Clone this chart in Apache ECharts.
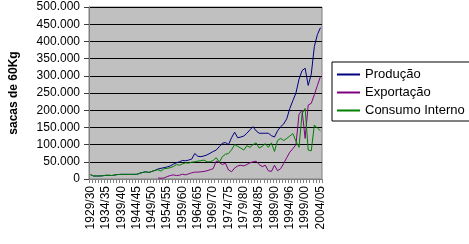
<!DOCTYPE html>
<html>
<head>
<meta charset="utf-8">
<script src="https://cdn.jsdelivr.net/npm/echarts@6/dist/echarts.min.js"></script>
<style>
html,body{margin:0;padding:0;background:#fff;}
#chart{width:469px;height:244px;}
</style>
</head>
<body>
<div id="chart"></div>
<script>
const categories = ["1929/30","1930/31","1931/32","1932/33","1933/34","1934/35","1935/36","1936/37","1937/38","1938/39",
"1939/40","1940/41","1941/42","1942/43","1943/44","1944/45","1945/46","1946/47","1947/48","1948/49",
"1949/50","1950/51","1951/52","1952/53","1953/54","1954/55","1955/56","1956/57","1957/58","1958/59",
"1959/60","1960/61","1961/62","1962/63","1963/64","1964/65","1965/66","1966/67","1967/68","1968/69",
"1969/70","1970/71","1971/72","1972/73","1973/74","1974/75","1975/76","1976/77","1977/78","1978/79",
"1979/80","1980/81","1981/82","1982/83","1983/84","1984/85","1985/86","1986/87","1987/88","1988/89",
"1989/90","1990/91","1991/92","1992/93","1993/94","1994/96","1995/96","1996/97","1997/98","1998/99",
"1999/00","2000/01","2001/02","2002/03","2003/04","2004/05"];

const producao = [12500,8700,8700,8700,9500,10700,10700,10000,12000,13000,
13500,13500,13500,13500,13500,13500,16500,19000,21000,19000,
22000,25000,29000,31000,33000,35000,38000,43000,47000,50000,
54000,53000,55000,58000,74000,66000,65000,67000,70000,75000,
80000,84000,94000,104000,106000,100000,120000,136000,120000,122000,
125000,133000,143000,152000,140000,133000,133000,133000,133000,126000,
122000,140000,152000,160000,175000,205000,228000,250000,290000,315000,
322000,272000,305000,385000,420000,440000];

const exportacao = [null,null,null,null,null,null,null,null,null,null,
null,null,null,null,null,null,null,null,null,null,
null,null,3000,2000,3000,7000,10000,12000,10000,11000,
14000,12000,15000,18000,20000,20000,21000,22000,24000,27000,
30000,52000,48000,42000,46000,26000,21000,32000,38000,40000,
38000,42000,47000,50000,52000,42000,36000,40000,24000,22000,
40000,24000,30000,45000,62000,78000,88000,100000,188000,200000,
118000,215000,220000,245000,272000,298000];

const consumo = [12500,8700,8700,8700,9500,10700,10700,10000,12000,13000,
13500,13500,13500,13500,13500,13500,16500,19000,21000,19000,
22000,25000,27000,23000,30000,31000,33000,36000,42000,40000,
44000,47000,46000,49000,50000,52000,53000,55000,50000,50000,
54000,62000,49000,65000,72000,74000,85000,100000,95000,90000,
84000,97000,92000,100000,105000,90000,95000,103000,92000,105000,
80000,112000,118000,112000,118000,125000,132000,110000,92000,190000,
205000,84000,82000,157000,148000,140000];

const seriesNames = ["Produção","Exportação","Consumo Interno"];
const seriesColors = ["#000080","#800080","#008000"];

const FONT = "Arial, 'Liberation Sans', sans-serif";
const chart = echarts.init(document.getElementById('chart'), null, {renderer:'canvas'});
const dataSets = [producao, exportacao, consumo];

chart.setOption({
  animation: false,
  backgroundColor: '#ffffff',
  textStyle: {fontFamily: FONT},
  grid: {left: 82, top: 7, width: 240, height: 172, show: true,
         backgroundColor: '#c0c0c0', borderColor: '#808080', borderWidth: 1},
  legend: {
    orient: 'vertical', left: 332, top: 62,
    data: seriesNames,
    borderColor: '#000', borderWidth: 1, borderRadius: 0,
    padding: [6, 7, 4, 4], itemGap: 5, itemWidth: 23, itemHeight: 15,
    itemStyle: {color: 'rgba(0,0,0,0)', borderWidth: 0, opacity: 0},
    textStyle: {fontSize: 13, color: '#000', fontFamily: FONT}
  },
  xAxis: {
    type: 'category', data: categories, boundaryGap: true,
    axisLine: {show: true, lineStyle: {color: '#808080', width: 1}},
    axisTick: {show: true, interval: 0, length: 4, lineStyle: {color: '#808080'}},
    axisLabel: {interval: 4, rotate: 90, fontSize: 12, color: '#000', margin: 7, fontFamily: FONT},
    splitLine: {show: false}
  },
  yAxis: {
    type: 'value', min: 0, max: 500000, interval: 50000,
    name: 'sacas de 60Kg', nameLocation: 'middle', nameGap: 69,
    nameTextStyle: {fontSize: 12, fontWeight: 'bold', color: '#000', fontFamily: FONT},
    axisLine: {show: true, lineStyle: {color: '#808080'}},
    axisTick: {show: true, length: 5, lineStyle: {color: '#404040'}},
    axisLabel: {fontSize: 12, color: '#000', margin: 9, fontFamily: FONT,
      formatter: v => v === 0 ? '0' : String(v).replace(/\B(?=(\d{3})+(?!\d))/g, '.')},
    splitLine: {show: true, lineStyle: {color: '#000', width: 1}}
  },
  series: seriesNames.map((n, k) => ({
    name: n, type: 'line', data: dataSets[k], symbol: 'none', connectNulls: false,
    lineStyle: {color: seriesColors[k], width: 1}, itemStyle: {color: seriesColors[k]}
  }))
});
</script>
</body>
</html>
